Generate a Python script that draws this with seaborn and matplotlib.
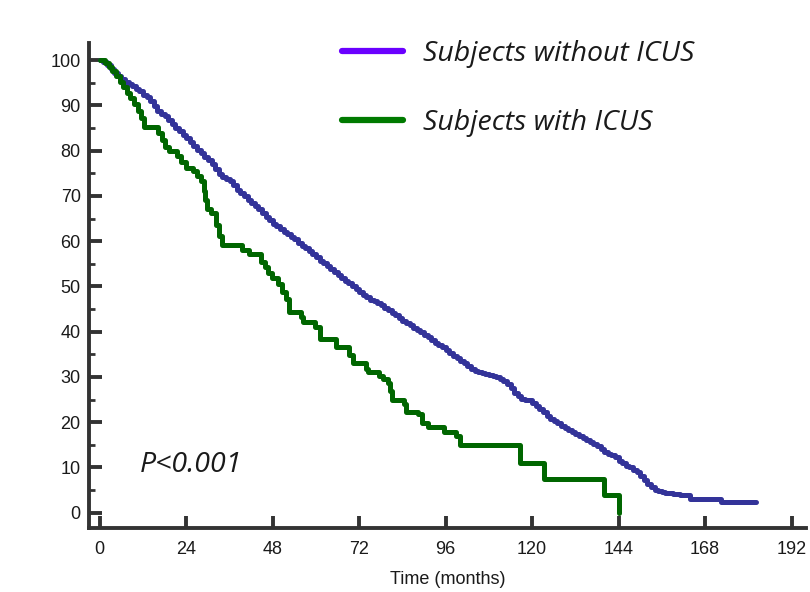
import matplotlib
matplotlib.use("Agg")
import matplotlib.pyplot as plt
from matplotlib.lines import Line2D
import seaborn as sns
import pandas as pd

# ---- data (months, % surviving) ----
without_t = list(range(0, 160)) + [161, 163.9, 172.5, 182]
without_v = [100, 99.6, 99.0, 98.1, 97.2, 96.5, 95.8, 95.2, 94.8, 94.2,
             93.7, 93.1, 92.4, 91.8, 90.9, 89.8, 88.8, 88.2, 87.6, 86.8,
             85.9, 85.0, 84.3, 83.4, 82.7, 81.9, 81.0, 80.2, 79.4, 78.6,
             77.9, 77.1, 76.0, 74.9, 74.2, 73.7, 73.2, 72.4, 71.4, 70.6,
             69.9, 69.2, 68.5, 67.8, 67.1, 66.3, 65.4, 64.6, 63.9, 63.3,
             62.6, 62.1, 61.6, 61.0, 60.4, 59.5, 58.9, 58.4, 57.8, 57.1,
             56.4, 55.7, 55.1, 54.5, 53.9, 53.2, 52.5, 51.9, 51.3, 50.7,
             50.0, 49.4, 48.8, 48.2, 47.6, 47.1, 46.7, 46.3, 45.9, 45.3,
             44.8, 44.2, 43.6, 43.0, 42.4, 41.9, 41.4, 40.9, 40.4, 39.9,
             39.3, 38.8, 38.2, 37.6, 37.0, 36.5, 35.9, 35.3, 34.7, 34.1,
             33.5, 33.0, 32.4, 31.8, 31.3, 31.1, 30.9, 30.6, 30.4, 30.2,
             30.0, 29.6, 29.0, 28.4, 27.6, 26.4, 25.7, 25.2, 25.0, 24.8,
             24.3, 23.6, 23.0, 22.2, 21.3, 20.8, 20.3, 19.9, 19.2, 18.6,
             18.2, 17.8, 17.4, 17.0, 16.5, 16.1, 15.6, 15.2, 14.7, 14.1,
             13.4, 13.0, 12.7, 12.3, 11.5, 10.9, 10.4, 10.0, 9.5, 8.9,
             8.1, 7.2, 6.4, 5.6, 5.0, 4.7, 4.6, 4.4, 4.3, 4.2,
             4.0, 3.0, 2.3, 2.3]

with_t = [0, 1.5, 2.5, 3.5, 4.5, 5.5, 6.5, 7.5, 8.5, 9.5, 10.5, 11.5, 12.3, 16.2, 17.2,
          18.2, 19.2, 21.5, 22.5, 23.8, 25.8, 27.0, 28.2, 28.8, 29.3, 29.8, 30.8, 32.2,
          33.0, 33.8, 39.6, 41.5, 44.6, 45.8, 46.8, 47.7, 49.5, 50.5, 51.8, 52.6, 55.8,
          56.5, 59.7, 61.0, 65.5, 69.3, 70.3, 73.8, 74.3, 77.5, 78.7, 80.0, 80.6, 81.0,
          84.4, 85.0, 88.4, 89.3, 91.2, 95.5, 98.8, 100.0, 116.6, 123.2, 140.0, 144.0]
with_v = [100, 99.3, 98.5, 97.6, 96.4, 95.2, 94.0, 92.8, 91.6, 90.3, 88.7, 87.2, 85.2,
          83.8, 82.4, 80.9, 80.0, 78.8, 77.4, 76.2, 75.4, 74.5, 73.2, 71.0, 69.0, 67.2,
          66.3, 63.5, 61.2, 59.1, 58.0, 57.2, 55.3, 54.2, 53.0, 51.8, 50.6, 48.8, 47.2,
          44.4, 43.3, 42.2, 41.0, 38.4, 36.7, 34.8, 33.0, 31.8, 31.0, 30.3, 29.6, 28.6,
          26.8, 24.9, 24.0, 22.3, 21.8, 19.8, 19.0, 17.8, 17.0, 15.0, 11.0, 7.4, 3.8, 0.0]

labels = ["Subjects without ICUS", "Subjects with ICUS"]
x_ticks = [0, 24, 48, 72, 96, 120, 144, 168, 192]
y_ticks = [0, 10, 20, 30, 40, 50, 60, 70, 80, 90, 100]
p_text = "P<0.001"
x_label = "Time (months)"

df = pd.concat([
    pd.DataFrame({"time": without_t, "surv": without_v, "group": labels[0]}),
    pd.DataFrame({"time": with_t, "surv": with_v, "group": labels[1]}),
], ignore_index=True)

sns.set_style("ticks")
plt.rcParams["font.family"] = ["Liberation Sans", "DejaVu Sans"]

line_colors = {labels[0]: "#333399", labels[1]: "#006600"}
legend_colors = ["#6a00ff", "#007a00"]

W, H = 810, 592
fig = plt.figure(figsize=(W / 100, H / 100), dpi=100)
L, R, T, B = 89, 806, 43, 528
ax = fig.add_axes([L / W, 1 - B / H, (R - L) / W, (B - T) / H])

sns.lineplot(data=df, x="time", y="surv", hue="group", palette=line_colors,
             estimator=None, sort=False, drawstyle="steps-post", linewidth=3.6,
             legend=False, ax=ax)

ax.set_xlim(-3, 196)
ax.set_ylim(-3.4, 103.8)
ax.set_xticks(x_ticks)
ax.set_yticks(y_ticks)
ax.set_yticks([v + 5 for v in y_ticks[:-1]], minor=True)
ax.set_xlabel(x_label, fontsize=13, color="#1a1a1a", labelpad=10)
ax.set_ylabel("")

for s in ["top", "right"]:
    ax.spines[s].set_visible(False)
for s in ["left", "bottom"]:
    ax.spines[s].set_linewidth(2.8)
    ax.spines[s].set_color("#333333")

ax.tick_params(axis="both", which="major", direction="in", length=9, width=2.8,
               color="#333333", labelsize=13, labelcolor="#1a1a1a",
               bottom=True, left=True, top=False, right=False)
ax.tick_params(axis="y", which="major", pad=6)
ax.tick_params(axis="x", which="major", pad=9)
ax.tick_params(axis="y", which="minor", direction="in", length=4, width=2.0,
               color="#333333", left=True, right=False)
ax.tick_params(axis="x", which="minor", bottom=False, top=False)

ax.text(11, 10.6, p_text, fontsize=20.5, fontstyle="italic",
        family=["Open Sans", "DejaVu Sans"],
        color="#1a1a1a", ha="left", va="center")

handles = [Line2D([], [], color=c, linewidth=4.5) for c in legend_colors]
leg = fig.legend(handles, labels, loc="upper left",
                 bbox_to_anchor=(342 / W, 1 - 40 / H), frameon=False,
                 handlelength=2.14, handletextpad=0.7, labelspacing=1.43,
                 borderpad=0, borderaxespad=0,
                 prop={"family": ["Open Sans", "DejaVu Sans"], "style": "italic", "size": 20.5})
for t in leg.get_texts():
    t.set_color("#1a1a1a")

fig.savefig("out.png", dpi=100)
